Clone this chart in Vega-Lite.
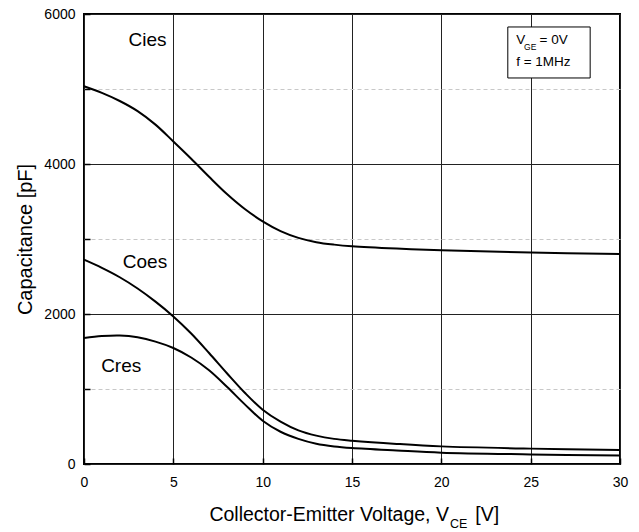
{
  "$schema": "https://vega.github.io/schema/vega-lite/v6.json",
  "width": 536,
  "height": 450,
  "autosize": {"type": "none"},
  "padding": {"left": 84, "top": 14, "right": 19, "bottom": 68},
  "background": "#ffffff",
  "config": {
    "font": "Liberation Sans",
    "view": {"stroke": "#000000", "strokeWidth": 2},
    "text": {"font": "Liberation Sans", "color": "#000000"}
  },
  "datasets": {
    "curves": [
      {"series": "Cies", "v": 0, "c": 5036}, {"series": "Cies", "v": 1, "c": 4948}, {"series": "Cies", "v": 2, "c": 4840},
      {"series": "Cies", "v": 3, "c": 4705}, {"series": "Cies", "v": 4, "c": 4525}, {"series": "Cies", "v": 5, "c": 4300},
      {"series": "Cies", "v": 6, "c": 4070}, {"series": "Cies", "v": 7, "c": 3830}, {"series": "Cies", "v": 8, "c": 3600},
      {"series": "Cies", "v": 9, "c": 3400}, {"series": "Cies", "v": 10, "c": 3235}, {"series": "Cies", "v": 11, "c": 3105},
      {"series": "Cies", "v": 12, "c": 3015}, {"series": "Cies", "v": 13, "c": 2958}, {"series": "Cies", "v": 14, "c": 2925},
      {"series": "Cies", "v": 15, "c": 2903}, {"series": "Cies", "v": 17.5, "c": 2872}, {"series": "Cies", "v": 20, "c": 2850},
      {"series": "Cies", "v": 25, "c": 2820}, {"series": "Cies", "v": 30, "c": 2800},
      {"series": "Coes", "v": 0, "c": 2724}, {"series": "Coes", "v": 1, "c": 2615}, {"series": "Coes", "v": 2, "c": 2490},
      {"series": "Coes", "v": 3, "c": 2340}, {"series": "Coes", "v": 4, "c": 2165}, {"series": "Coes", "v": 5, "c": 1968},
      {"series": "Coes", "v": 6, "c": 1740}, {"series": "Coes", "v": 7, "c": 1480}, {"series": "Coes", "v": 8, "c": 1210},
      {"series": "Coes", "v": 9, "c": 950}, {"series": "Coes", "v": 10, "c": 724}, {"series": "Coes", "v": 11, "c": 565},
      {"series": "Coes", "v": 12, "c": 448}, {"series": "Coes", "v": 13, "c": 378}, {"series": "Coes", "v": 14, "c": 335},
      {"series": "Coes", "v": 15, "c": 311}, {"series": "Coes", "v": 17.5, "c": 268}, {"series": "Coes", "v": 20, "c": 235},
      {"series": "Coes", "v": 25, "c": 205}, {"series": "Coes", "v": 30, "c": 187},
      {"series": "Cres", "v": 0, "c": 1680}, {"series": "Cres", "v": 1, "c": 1706}, {"series": "Cres", "v": 2, "c": 1714},
      {"series": "Cres", "v": 3, "c": 1690}, {"series": "Cres", "v": 4, "c": 1632}, {"series": "Cres", "v": 5, "c": 1547},
      {"series": "Cres", "v": 6, "c": 1420}, {"series": "Cres", "v": 7, "c": 1250}, {"series": "Cres", "v": 8, "c": 1030},
      {"series": "Cres", "v": 9, "c": 795}, {"series": "Cres", "v": 10, "c": 577}, {"series": "Cres", "v": 11, "c": 430},
      {"series": "Cres", "v": 12, "c": 335}, {"series": "Cres", "v": 13, "c": 270}, {"series": "Cres", "v": 14, "c": 234},
      {"series": "Cres", "v": 15, "c": 213}, {"series": "Cres", "v": 17.5, "c": 180}, {"series": "Cres", "v": 20, "c": 151},
      {"series": "Cres", "v": 25, "c": 128}, {"series": "Cres", "v": 30, "c": 112}
    ],
    "curveLabels": [
      {"label": "Cies", "v": 2.49, "c": 5577},
      {"label": "Coes", "v": 2.17, "c": 2613},
      {"label": "Cres", "v": 0.96, "c": 1221}
    ],
    "box": [{"v1": 23.72, "v2": 28.33, "c1": 5827, "c2": 5147}],
    "boxText": [
      {"t": "V", "v": 24.19, "c": 5604},
      {"t": "= 0V", "v": 25.5, "c": 5604},
      {"t": "f = 1MHz", "v": 24.19, "c": 5311}
    ],
    "boxSub": [{"t": "GE", "v": 24.63, "c": 5524}],
    "xTitle": [
      {"t": "Collector-Emitter Voltage, V", "v": 7.02, "c": -765},
      {"t": "[V]", "v": 21.9, "c": -765}
    ],
    "xTitleSub": [{"t": "CE", "v": 20.49, "c": -851}]
  },
  "layer": [
    {
      "data": {"name": "curves"},
      "mark": {"type": "line", "interpolate": "catmull-rom", "color": "#000000", "strokeWidth": 2},
      "encoding": {
        "x": {
          "field": "v", "type": "quantitative",
          "scale": {"domain": [0, 30], "nice": false, "zero": false},
          "axis": {
            "values": [0, 5, 10, 15, 20, 25, 30],
            "title": null,
            "domain": false,
            "grid": true, "gridColor": "#222222", "gridWidth": 1,
            "ticks": true, "tickSize": -6, "tickColor": "#000000", "tickWidth": 1.5,
            "labelFontSize": 14, "labelColor": "#000000", "labelPadding": 17, "labelFlush": false,
            "format": "d"
          }
        },
        "y": {
          "field": "c", "type": "quantitative",
          "scale": {"domain": [0, 6000], "nice": false, "zero": false},
          "axis": {
            "values": [0, 1000, 2000, 3000, 4000, 5000, 6000],
            "format": "d",
            "labelExpr": "datum.value % 2000 === 0 ? datum.label : ''",
            "title": "Capacitance [pF]",
            "titleFontSize": 20, "titleFontWeight": "normal", "titleColor": "#000000", "titlePadding": 8,
            "domain": false,
            "grid": true,
            "gridColor": {"condition": {"test": "datum.value % 2000 !== 0", "value": "#c8c8c8"}, "value": "#222222"},
            "gridDash": {"condition": {"test": "datum.value % 2000 !== 0", "value": [4, 3]}, "value": []},
            "gridWidth": 1,
            "ticks": true, "tickSize": -6, "tickColor": "#000000", "tickWidth": 1.5,
            "labelFontSize": 14, "labelColor": "#000000", "labelPadding": 15
          }
        },
        "detail": {"field": "series", "type": "nominal"}
      }
    },
    {
      "data": {"name": "box"},
      "mark": {"type": "rect", "fill": "#ffffff", "stroke": "#000000", "strokeWidth": 1},
      "encoding": {
        "x": {"field": "v1", "type": "quantitative"},
        "x2": {"field": "v2"},
        "y": {"field": "c1", "type": "quantitative"},
        "y2": {"field": "c2"}
      }
    },
    {
      "data": {"name": "curveLabels"},
      "mark": {"type": "text", "align": "left", "baseline": "alphabetic", "fontSize": 19},
      "encoding": {
        "x": {"field": "v", "type": "quantitative"},
        "y": {"field": "c", "type": "quantitative"},
        "text": {"field": "label"}
      }
    },
    {
      "data": {"name": "boxText"},
      "mark": {"type": "text", "align": "left", "baseline": "alphabetic", "fontSize": 13.5},
      "encoding": {
        "x": {"field": "v", "type": "quantitative"},
        "y": {"field": "c", "type": "quantitative"},
        "text": {"field": "t"}
      }
    },
    {
      "data": {"name": "boxSub"},
      "mark": {"type": "text", "align": "left", "baseline": "alphabetic", "fontSize": 8.5},
      "encoding": {
        "x": {"field": "v", "type": "quantitative"},
        "y": {"field": "c", "type": "quantitative"},
        "text": {"field": "t"}
      }
    },
    {
      "data": {"name": "xTitle"},
      "mark": {"type": "text", "align": "left", "baseline": "alphabetic", "fontSize": 19.5},
      "encoding": {
        "x": {"field": "v", "type": "quantitative"},
        "y": {"field": "c", "type": "quantitative"},
        "text": {"field": "t"}
      }
    },
    {
      "data": {"name": "xTitleSub"},
      "mark": {"type": "text", "align": "left", "baseline": "alphabetic", "fontSize": 12.5},
      "encoding": {
        "x": {"field": "v", "type": "quantitative"},
        "y": {"field": "c", "type": "quantitative"},
        "text": {"field": "t"}
      }
    }
  ]
}
